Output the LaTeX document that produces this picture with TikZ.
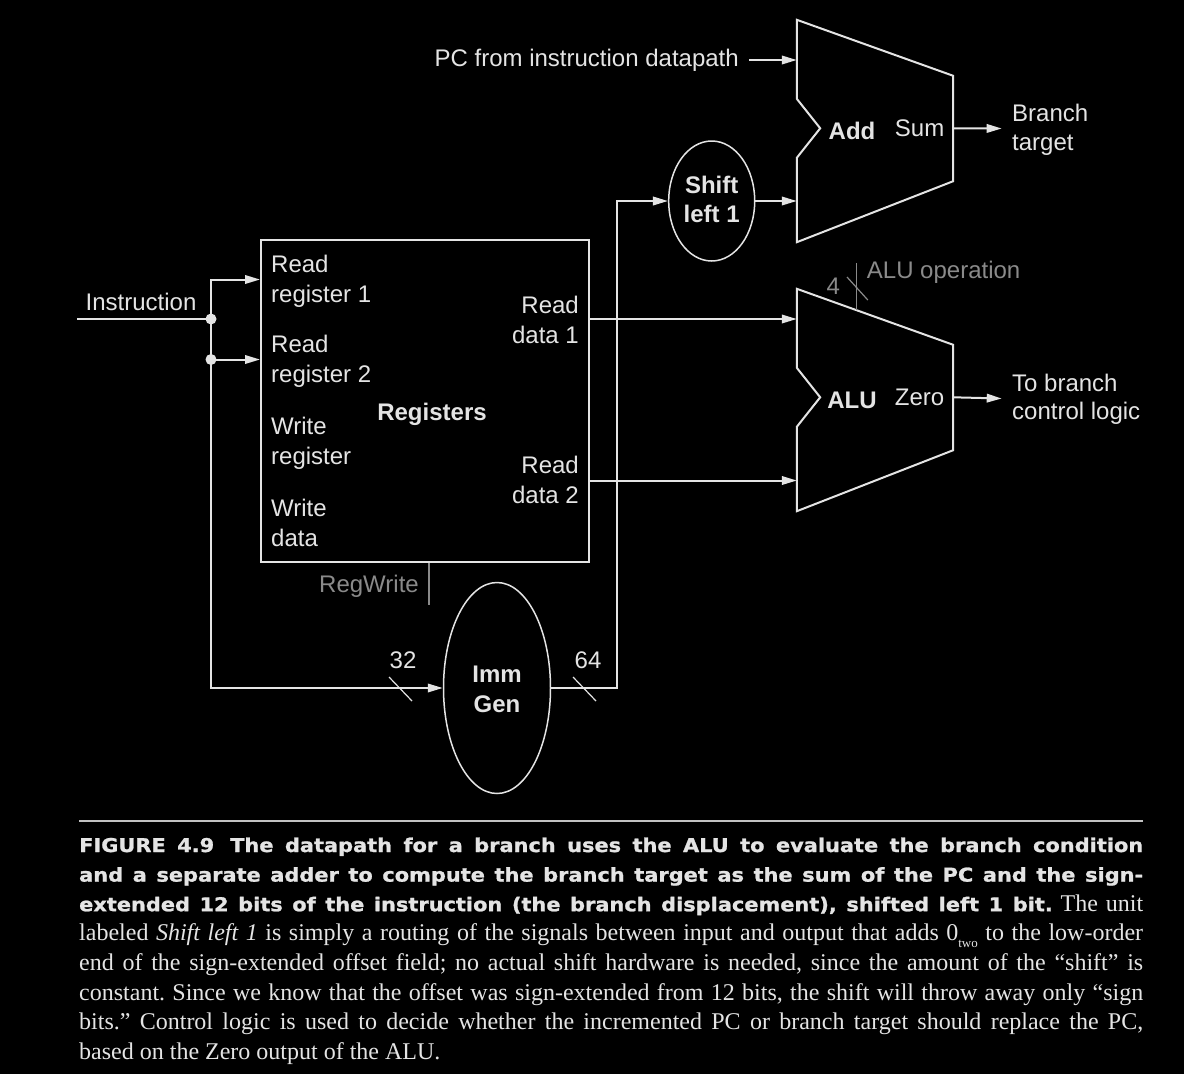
\documentclass[tikz,border=0pt]{standalone}
\usepackage{fontspec}
\setmainfont{Liberation Sans}
\newfontfamily\capsansfam{DejaVu Sans}[FakeStretch=1.1,FakeBold=1.2]
\newfontfamily\capseriffam{Liberation Serif}
\newcommand\capB{\capsansfam\bfseries\fontsize{19}{19}\selectfont}
\newcommand\capR{\capseriffam\fontsize{24}{24}\selectfont}
\usetikzlibrary{arrows.meta,calc,shapes.geometric}
\definecolor{fg}{HTML}{E4E4E4}
\definecolor{gr}{HTML}{8A8A8A}
\frenchspacing
\begin{document}
\begin{tikzpicture}[x=1pt,y=-1pt,
  wire/.style={draw=fg,line width=2pt},
  arr/.style={wire,-{Triangle[length=15pt,width=8.5pt]}},
  thinwire/.style={draw=fg,line width=1.2pt},
  grwire/.style={draw=gr,line width=1.5pt},
  lbl/.style={text=fg,inner sep=0,font=\fontsize{24}{30}\selectfont},
  blbl/.style={text=fg,inner sep=0,font=\fontsize{24}{30}\selectfont\bfseries},
  glbl/.style={text=gr,inner sep=0,font=\fontsize{24}{30}\selectfont},
  dot/.style={circle,fill=fg,inner sep=0,minimum size=11pt},
  oval/.style={ellipse,draw=fg,line width=1.5pt,inner sep=0},
  capline/.style={text=fg,inner sep=0,anchor=base west}]
\fill[black] (0,0) rectangle (1184,1074);
\useasboundingbox (0,0) rectangle (1184,1074);

% ---------------- Registers ----------------
\node[draw=fg,line width=2pt,minimum width=328pt,minimum height=322pt,inner sep=0] (reg) at (425,400.5) {};
\node[lbl,anchor=base west] (rr1a) at (271,272) {Read};
\node[lbl,anchor=base west] (rr1b) at (271,302) {register 1};
\node[lbl,anchor=base west] (rr2a) at (271,352.5) {Read};
\node[lbl,anchor=base west] (rr2b) at (271,382.5) {register 2};
\node[lbl,anchor=base west] (wra) at (271,434) {Write};
\node[lbl,anchor=base west] (wrb) at (271,464) {register};
\node[lbl,anchor=base west] (wda) at (271,516) {Write};
\node[lbl,anchor=base west] (wdb) at (271,546) {data};
\node[blbl,anchor=base] (regname) at (432,420) {Registers};
\node[lbl,anchor=base east] (rd1a) at (579,313) {Read};
\node[lbl,anchor=base east] (rd1b) at (579,343) {data 1};
\node[lbl,anchor=base east] (rd2a) at (579,473.5) {Read};
\node[lbl,anchor=base east] (rd2b) at (579,503.5) {data 2};

% RegWrite
\coordinate (rw) at (429,605);
\draw[grwire] (reg.south -| rw) -- (rw);
\node[glbl,anchor=base east] (rwlbl) at (419,592.7) {RegWrite};

% ---------------- Instruction ----------------
\node[lbl,anchor=base] (instr) at (141,310) {Instruction};
\coordinate (instart) at (77,319);
\coordinate (j1) at (211,319);
\coordinate (j2) at (211,359.5);
\coordinate (jtop) at (211,279.5);

% ---------------- Imm Gen ----------------
\node[oval,minimum width=107pt,minimum height=211pt] (imm) at (497,688) {};
\node[blbl,anchor=base] (immt1) at (497,682) {Imm};
\node[blbl,anchor=base] (immt2) at (497,712) {Gen};

\draw[wire] (instart) -- (j1);
\draw[arr] (j1) |- (jtop -| reg.west);
\draw[arr] (j2) -- (j2 -| reg.west);
\draw[arr] (j1) |- (imm.west);
\node[dot] (d1) at (j1) {};
\node[dot] (d2) at (j2) {};

\node[lbl,anchor=base] (w32) at (403,668) {32};
\draw[thinwire] (389,677) -- (412,701);
\node[lbl,anchor=base] (w64) at (588,668) {64};
\draw[thinwire] (573,677) -- (596,701);

% ---------------- Shift left 1 ----------------
\node[oval,minimum width=86pt,minimum height=120pt] (shl) at (711.7,201) {};
\node[blbl,anchor=base] (shlt1) at (711.7,193) {Shift};
\node[blbl,anchor=base] (shlt2) at (711.7,222) {left 1};
\coordinate (bend) at (617,688);
\draw[arr] (imm.east) -- (bend) |- (shl.west);

% ---------------- Add ----------------
\node[inner sep=0,minimum width=156pt,minimum height=222pt] (add) at (875,131) {};
\draw[wire,line join=miter] (add.north west) -- ($(add.north east)+(0,56)$)
  -- ($(add.south east)+(0,-61)$) -- (add.south west)
  -- ($(add.north west)+(0,138)$) -- ($(add.north west)+(23.4,108.5)$)
  -- ($(add.north west)+(0,79)$) -- cycle;
\node[blbl,anchor=base] (addt) at (852,139) {Add};
\node[lbl,anchor=base east] (sumt) at (944.5,136) {Sum};
\draw[arr] (shl.east) -- (shl.east -| add.west);

\node[lbl,anchor=base east] (pc) at (739,66.7) {PC from instruction datapath};
\coordinate (pcin) at (749.4,60);
\draw[arr] (pcin) -- (pcin -| add.west);

\coordinate (addout) at ($(add.north east)+(0,108.5)$);
\coordinate (btin) at (1001.7,128.5);
\draw[arr] (addout) -- (btin);
\node[lbl,anchor=base west] (bt1) at (1012,121.7) {Branch};
\node[lbl,anchor=base west] (bt2) at (1012,150.5) {target};

% ---------------- ALU ----------------
\node[inner sep=0,minimum width=156pt,minimum height=222pt] (alu) at (875,400) {};
\draw[wire,line join=miter] (alu.north west) -- ($(alu.north east)+(0,56)$)
  -- ($(alu.south east)+(0,-61)$) -- (alu.south west)
  -- ($(alu.north west)+(0,138)$) -- ($(alu.north west)+(23.4,108.5)$)
  -- ($(alu.north west)+(0,79)$) -- cycle;
\node[blbl,anchor=base] (alut) at (852,408) {ALU};
\node[lbl,anchor=base east] (zerot) at (944.5,405) {Zero};

\coordinate (rd1) at (589,319);
\coordinate (rd2) at (589,480.5);
\draw[arr] (rd1) -- (rd1 -| alu.west);
\draw[arr] (rd2) -- (rd2 -| alu.west);

\coordinate (aluout) at ($(alu.north east)+(0,108.5)$);
\coordinate (tbin) at (1001.7,398.5);
\draw[arr] (aluout) -- (tbin);
\node[lbl,anchor=base west] (tb1) at (1012,391) {To branch};
\node[lbl,anchor=base west] (tb2) at (1012,419.5) {control logic};

% ALU operation
\coordinate (aop) at (856.7,263);
\coordinate (aopend) at (856.7,310.4);
\draw[grwire] (aop) -- (aopend);
\draw[draw=gr,line width=1.2pt] (847,277) -- (867.8,300);
\node[glbl,anchor=base] (four) at (833.4,294) {4};
\node[glbl,anchor=base west] (aoplbl) at (866.7,278) {ALU operation};

% ---------------- Caption ----------------
\draw[draw=fg!85!black,line width=1.8pt] (79,821) -- (1143,821);
\node[capline] (c1) at (79,852) {\makebox[1064pt][s]{\capB FIGURE 4.9\hspace{16pt}The datapath for a branch uses the ALU to evaluate the branch condition}};
\node[capline] (c2) at (79,881.6) {\makebox[1064pt][s]{\capB and a separate adder to compute the branch target as the sum of the PC and the sign-}};
\node[capline] (c3) at (79,911.2) {\capR\makebox[1064pt][s]{{\capB extended 12 bits of the instruction (the branch displacement), shifted left 1 bit.} The unit}};
\node[capline] (c4) at (79,940.8) {\capR\makebox[1064pt][s]{labeled \textit{Shift left 1} is simply a routing of the signals between input and output that adds 0\raisebox{-7pt}{\fontsize{13}{13}\selectfont two} to the low-order}};
\node[capline] (c5) at (79,970.4) {\capR\makebox[1064pt][s]{end of the sign-extended offset field; no actual shift hardware is needed, since the amount of the “shift” is}};
\node[capline] (c6) at (79,1000) {\capR\makebox[1064pt][s]{constant. Since we know that the offset was sign-extended from 12 bits, the shift will throw away only “sign}};
\node[capline] (c7) at (79,1029.6) {\capR\makebox[1064pt][s]{bits.” Control logic is used to decide whether the incremented PC or branch target should replace the PC,}};
\node[capline] (c8) at (79,1059.2) {\capR based on the Zero output of the ALU.};
\end{tikzpicture}
\end{document}
